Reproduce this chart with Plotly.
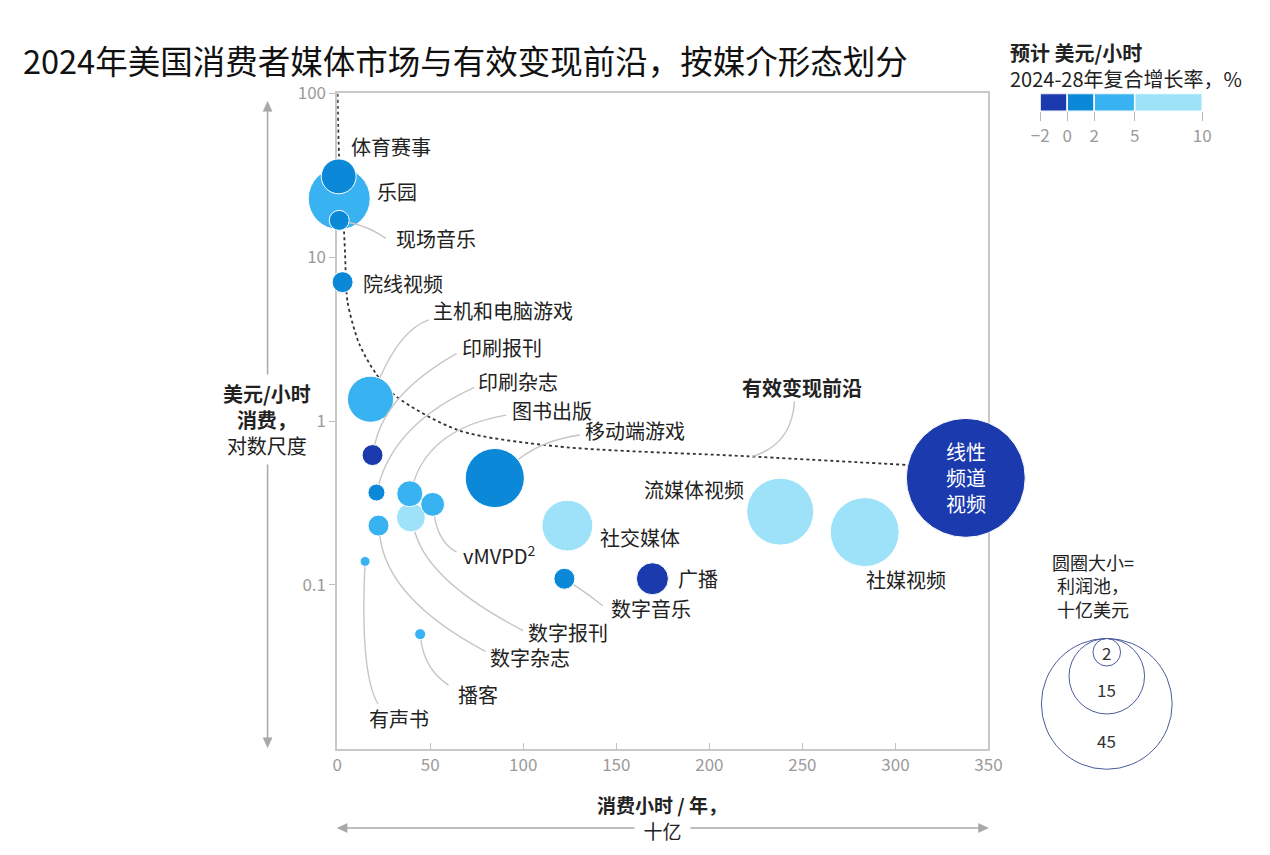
import numpy as np
import plotly.graph_objects as go

# data
media = ["体育赛事", "乐园", "现场音乐", "院线视频", "主机和电脑游戏", "印刷报刊",
         "印刷杂志", "图书出版", "vMVPD²", "数字报刊", "数字杂志", "有声书", "播客",
         "移动端游戏", "社交媒体", "数字音乐", "广播", "流媒体视频", "社媒视频", "线性频道视频"]
hours_bn = [0.8, 1.1, 1.1, 2.9, 17.9, 19.0, 21.1, 39.0, 51.3, 39.6, 22.2, 15.0, 44.6,
            84.7, 123.7, 122.1, 169.4, 238.1, 283.5, 337.8]
usd_per_hour = [31.2, 22.8, 16.8, 7.05, 1.36, 0.62, 0.366, 0.36, 0.31, 0.258, 0.23, 0.139, 0.05,
                0.449, 0.23, 0.109, 0.109, 0.28, 0.21, 0.45]
profit_pool_bn = [3.2, 10.1, 1.05, 1.16, 5.6, 1.16, 0.76, 1.78, 1.5, 2.2, 1.16, 0.26, 0.32,
                  9.2, 6.8, 1.16, 2.7, 11.8, 12.5, 37.2]
# index into growth bands: 0 = -2..0, 1 = 0..2, 2 = 2..5, 3 = 5..10
growth_band = [1, 2, 1, 1, 2, 0, 1, 2, 2, 3, 2, 2, 2, 1, 3, 1, 0, 3, 3, 0]

growth_edges = [-2, 0, 2, 5, 10]
band_colors = ["#1a3aae", "#0b89d8", "#38b2f0", "#9ee2f9"]

frontier_hours = [0.2, 1.0, 3.7, 4.3, 5.5, 11.8, 20.8, 31.5, 65, 118.6, 220, 306]
frontier_usd = [100, 42, 14.2, 10, 5.4, 2.97, 1.95, 1.42, 0.88, 0.70, 0.61, 0.54]

size_legend = [45, 15, 2]

# page geometry (pixels)
W, H, M = 1270, 855, 20
PW, PH = W - 2 * M, H - 2 * M
X0, X1, Y0, Y1 = 338, 993, 88, 748
K = 19.5  # bubble diameter px per sqrt(bn $)
FONT = "Noto Sans CJK SC"
GREY = "#9a9a9a"
LEADER = "#c6c6c6"
ARROW = "#a8a8a8"


def paper(px, py):
    return (px - M) / PW, (H - M - py) / PH


def to_px(x, y):
    return X0 + x / 350 * (X1 - X0), Y0 + (2 - np.log10(y)) / 4 * (Y1 - Y0)


def curve(p0, p1, p2):
    a, b, c = paper(*p0), paper(*p1), paper(*p2)
    return dict(type="path", xref="paper", yref="paper",
                path=f"M {a[0]},{a[1]} Q {b[0]},{b[1]} {c[0]},{c[1]}",
                line=dict(color=LEADER, width=1.4))


def head(tip, dx, dy):
    # small filled triangle pointing along (dx, dy)
    tx, ty = tip
    nx, ny = -dy, dx
    pts = [(tx, ty), (tx - 10 * dx + 4.5 * nx, ty - 10 * dy + 4.5 * ny),
           (tx - 10 * dx - 4.5 * nx, ty - 10 * dy - 4.5 * ny)]
    pp = [paper(*p) for p in pts]
    path = "M " + " L ".join(f"{x},{y}" for x, y in pp) + " Z"
    return dict(type="path", xref="paper", yref="paper", path=path,
                fillcolor=ARROW, line=dict(color=ARROW, width=0.5))


def seg(p0, p1):
    a, b = paper(*p0), paper(*p1)
    return dict(type="line", xref="paper", yref="paper", x0=a[0], y0=a[1], x1=b[0], y1=b[1],
                line=dict(color=ARROW, width=1.5))


# label placement: left edge x, middle y (px)
label_pos = {
    "体育赛事": (350, 141), "乐园": (376, 187), "现场音乐": (395, 234), "院线视频": (362, 279),
    "主机和电脑游戏": (432, 307), "印刷报刊": (462, 344), "印刷杂志": (478, 378),
    "图书出版": (512, 407), "移动端游戏": (585, 428), "流媒体视频": (645, 487),
    "社交媒体": (600, 535), "vMVPD²": (463, 553), "广播": (679, 577), "社媒视频": (868, 578),
    "数字音乐": (611, 607), "数字报刊": (528, 631), "数字杂志": (490, 656), "播客": (457, 693),
    "有声书": (368, 718),
}
# leader lines: end near label, bezier control point (px)
leaders = {
    "现场音乐": ((387, 234), (370, 222)),
    "主机和电脑游戏": ((430, 316), (402, 326)),
    "印刷报刊": ((458, 350), (387, 390)),
    "印刷杂志": ((476, 384), (397, 420)),
    "图书出版": ((508, 412), (433, 425)),
    "移动端游戏": ((582, 432), (545, 437)),
    "vMVPD²": ((458, 550), (440, 540)),
    "数字报刊": ((525, 629), (430, 580)),
    "数字杂志": ((487, 650), (389, 598)),
    "有声书": ((379, 703), (361, 672)),
    "播客": ((450, 684), (426, 668)),
    "数字音乐": ((605, 604), (590, 592)),
}

fig = go.Figure()

# efficient monetisation frontier
fig.add_trace(go.Scatter(
    x=frontier_hours, y=frontier_usd, mode="lines", hoverinfo="skip",
    line=dict(color="#333333", width=1.8, dash="3px,3px", shape="spline", smoothing=0.8),
    cliponaxis=False, showlegend=False))

order = np.argsort(profit_pool_bn)[::-1]
fig.add_trace(go.Scatter(
    x=[hours_bn[i] for i in order], y=[usd_per_hour[i] for i in order],
    text=[media[i] for i in order], mode="markers", hovertemplate="%{text}<extra></extra>",
    marker=dict(size=[K * np.sqrt(profit_pool_bn[i]) for i in order], sizemode="diameter",
                color=[band_colors[growth_band[i]] for i in order],
                line=dict(color="white", width=1), opacity=1),
    cliponaxis=False, showlegend=False))

# growth legend bar
fig.add_trace(go.Bar(
    x=np.diff(growth_edges), base=growth_edges[:-1], y=[0] * 4, orientation="h", width=1,
    marker=dict(color=band_colors, line=dict(color="white", width=1.5)),
    xaxis="x2", yaxis="y2", hoverinfo="skip", showlegend=False))

ann = []
shapes = []

for name, (lx, ly) in label_pos.items():
    px, py = paper(lx, ly)
    ann.append(dict(x=px, y=py, xref="paper", yref="paper", xanchor="left", yanchor="middle",
                    text=name.replace("²", "<sup>2</sup>"), showarrow=False,
                    font=dict(size=20, color="#222222")))

for name, (end, ctrl) in leaders.items():
    i = media.index(name)
    cx, cy = to_px(hours_bn[i], usd_per_hour[i])
    r = K * np.sqrt(profit_pool_bn[i]) / 2 + 0.5
    d = np.array(ctrl) - np.array([cx, cy])
    sx, sy = np.array([cx, cy]) + r * d / np.hypot(*d)
    shapes.append(curve((sx, sy), ctrl, end))

# frontier label and its leader
fx = 223
fy = 10 ** np.interp(fx, frontier_hours, np.log10(frontier_usd))
shapes.append(curve(to_px(fx, fy), (795, 442), (798, 398)))
px, py = paper(743, 384)
ann.append(dict(x=px, y=py, xref="paper", yref="paper", xanchor="left", yanchor="middle",
                text="<b>有效变现前沿</b>", showarrow=False, font=dict(size=20, color="#222222")))

# text inside the linear TV bubble
i = media.index("线性频道视频")
px, py = paper(*to_px(hours_bn[i], usd_per_hour[i]))
ann.append(dict(x=px, y=py, xref="paper", yref="paper", xanchor="center", yanchor="middle",
                text="线性<br>频道<br>视频", showarrow=False, font=dict(size=20, color="white")))

# title
px, py = paper(20, 54)
ann.append(dict(x=px, y=py, xref="paper", yref="paper", xanchor="left", yanchor="middle",
                text="2024年美国消费者媒体市场与有效变现前沿，按媒介形态划分", showarrow=False,
                font=dict(size=32.5, color="#111111")))

# axis arrows (double headed)
shapes += [seg((268, 104), (268, 739)), head((268, 96), 0, -1), head((268, 747), 0, 1)]
shapes += [seg((346, 828), (985, 828)), head((338, 828), -1, 0), head((993, 828), 1, 0)]

# axis titles
px, py = paper(267, 416)
ann.append(dict(x=px, y=py, xref="paper", yref="paper", xanchor="center", yanchor="middle",
                text="<b>美元/小时</b><br><b>消费，</b><br>对数尺度", showarrow=False,
                bgcolor="white", borderpad=4, font=dict(size=20, color="#222222")))
px, py = paper(665, 804)
ann.append(dict(x=px, y=py, xref="paper", yref="paper", xanchor="center", yanchor="middle",
                text="<b>消费小时 / 年，</b>", showarrow=False, font=dict(size=19, color="#222222")))
px, py = paper(665, 830)
ann.append(dict(x=px, y=py, xref="paper", yref="paper", xanchor="center", yanchor="middle",
                text="\u00a0\u00a0十亿\u00a0\u00a0", showarrow=False, bgcolor="white", borderpad=0,
                font=dict(size=19, color="#222222")))

# growth legend title
px, py = paper(1013, 60)
ann.append(dict(x=px, y=py, xref="paper", yref="paper", xanchor="left", yanchor="middle",
                align="left", text="<b>预计 美元/小时</b><br>2024-28年复合增长率，%",
                showarrow=False, font=dict(size=20, color="#222222")))

# size legend
px, py = paper(1098, 584)
ann.append(dict(x=px, y=py, xref="paper", yref="paper", xanchor="center", yanchor="middle",
                text="圆圈大小=<br>利润池，<br>十亿美元", showarrow=False,
                font=dict(size=18, color="#222222")))
top = 637
cxl = 1112
diams = [K * np.sqrt(v) for v in size_legend]
ax_, ay_ = paper(cxl, top)
for v, dpx in zip(size_legend, diams):
    shapes.append(dict(type="circle", xref="paper", yref="paper", xsizemode="pixel",
                       ysizemode="pixel", xanchor=ax_, yanchor=ay_,
                       x0=-dpx / 2, x1=dpx / 2, y0=-dpx, y1=0,
                       line=dict(color="#4a5a9c", width=1)))
for j, (v, dpx) in enumerate(zip(size_legend, diams)):
    inner = diams[j + 1] if j + 1 < len(diams) else 0
    ly = top + (inner + dpx) / 2 if inner else top + dpx / 2
    px, py = paper(cxl, ly)
    ann.append(dict(x=px, y=py, xref="paper", yref="paper", xanchor="center", yanchor="middle",
                    text=str(v), showarrow=False, font=dict(size=17, color="#333333")))

xd = [(X0 - M) / PW, (X1 - M) / PW]
yd = [(H - M - Y1) / PH, (H - M - Y0) / PH]

fig.update_layout(
    width=W, height=H, margin=dict(l=M, r=M, t=M, b=M),
    paper_bgcolor="white", plot_bgcolor="white",
    font=dict(family=FONT, size=17, color="#222222"),
    xaxis=dict(domain=xd, range=[0, 350], tickvals=list(range(0, 351, 50)),
               ticks="inside", ticklen=6, tickcolor="#c0c0c0", showline=True,
               linecolor="#c8c8c8", linewidth=1.5, mirror=True, showgrid=False,
               zeroline=False, tickfont=dict(size=17, color=GREY), layer="below traces"),
    yaxis=dict(domain=yd, type="log", range=[-2, 2], tickvals=[0.1, 1, 10, 100],
               ticktext=["0.1", "1", "10", "100"], ticks="outside", ticklen=6,
               tickcolor="#c0c0c0", showline=True, linecolor="#c8c8c8", linewidth=1.5,
               mirror=True, showgrid=False, zeroline=False,
               tickfont=dict(size=17, color=GREY), layer="below traces"),
    xaxis2=dict(domain=[(1045 - M) / PW, (1208 - M) / PW], range=[-2, 10], anchor="y2",
                tickvals=growth_edges, ticks="outside", ticklen=9, tickcolor="#b8b8b8",
                showline=False, showgrid=False, zeroline=False,
                tickfont=dict(size=17, color=GREY)),
    yaxis2=dict(domain=[(H - M - 106) / PH, (H - M - 88) / PH], range=[-0.5, 0.5],
                anchor="x2", visible=False),
    annotations=ann, shapes=shapes,
)

fig.write_html("out.html", config={"displayModeBar": False},
               post_script="document.body.style.margin='0px';")
